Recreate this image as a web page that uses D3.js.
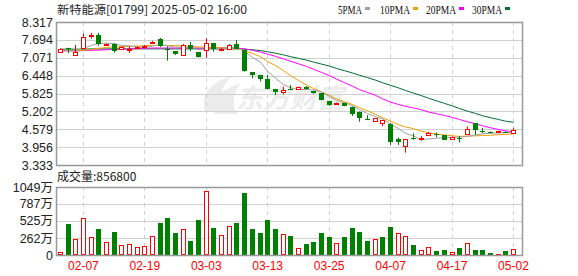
<!DOCTYPE html>
<html>
<head>
<meta charset="utf-8">
<script src="https://cdn.jsdelivr.net/npm/d3@7"></script>
<style>
  body { margin: 0; background: #fff; }
  svg { display: block; }
</style>
</head>
<body>
<div id="chart"></div>
<script>
// trading days shown (Feb 4 - May 2 2025)
var dates = ["02-04","02-05","02-06","02-07","02-10","02-11","02-12","02-13","02-14","02-17",
  "02-18","02-19","02-20","02-21","02-24","02-25","02-26","02-27","02-28","03-03",
  "03-04","03-05","03-06","03-07","03-10","03-11","03-12","03-13","03-14","03-17",
  "03-18","03-19","03-20","03-21","03-24","03-25","03-26","03-27","03-28","03-31",
  "04-01","04-02","04-03","04-07","04-08","04-09","04-10","04-11","04-14","04-15",
  "04-16","04-17","04-22","04-23","04-24","04-25","04-28","04-29","04-30","05-02"];

var open  = [7.29,7.40,7.19,7.39,7.84,7.85,7.53,7.55,7.37,7.38,7.42,7.45,7.59,7.73,7.37,7.29,7.18,7.53,7.27,7.34,
  7.58,7.35,7.38,7.54,7.34,6.56,6.47,6.33,5.98,5.87,5.99,5.98,6.06,5.91,5.83,5.56,5.47,5.48,5.37,5.19,
  4.93,4.87,4.79,4.76,4.24,4.00,4.29,4.26,4.36,4.41,4.37,4.25,4.27,4.40,4.79,4.53,4.48,4.47,4.49,4.48];
var close = [7.38,7.35,7.28,7.78,7.85,7.55,7.55,7.29,7.44,7.39,7.44,7.47,7.63,7.47,7.35,7.18,7.52,7.38,7.09,7.58,
  7.38,7.38,7.51,7.38,6.61,6.45,6.32,5.97,5.86,5.95,5.98,6.06,5.98,5.83,5.60,5.43,5.48,5.39,5.14,4.98,
  4.92,4.97,4.90,4.12,4.13,4.23,4.28,4.27,4.44,4.40,4.21,4.32,4.26,4.58,4.53,4.52,4.47,4.52,4.48,4.57];
var high  = [7.40,7.42,7.52,7.91,7.94,7.94,7.57,7.57,7.46,7.47,7.47,7.52,7.66,7.76,7.47,7.31,7.55,7.62,7.28,7.75,
  7.59,7.42,7.55,7.69,7.38,6.57,6.48,6.47,5.99,6.06,6.12,6.06,6.08,5.92,5.84,5.57,5.51,5.50,5.37,5.20,
  5.07,4.97,4.90,4.80,4.29,4.23,4.44,4.34,4.49,4.47,4.38,4.32,4.34,4.67,4.80,4.63,4.50,4.53,4.52,4.63];
var low   = [7.25,7.23,7.19,7.38,7.74,7.49,7.50,7.25,7.35,7.24,7.38,7.43,7.55,7.44,6.97,7.17,7.17,7.30,7.08,7.07,
  7.28,7.30,7.37,7.37,6.59,6.35,6.24,5.96,5.77,5.80,5.97,5.97,5.97,5.81,5.58,5.40,5.46,5.38,5.04,4.84,
  4.92,4.86,4.69,4.03,4.03,3.76,4.21,4.18,4.35,4.30,4.20,4.24,4.12,4.39,4.38,4.44,4.44,4.46,4.47,4.47];

// volume in 万 shares, and whether the bar is drawn as a rise (red)
var volume = [40,478,242,566,272,401,195,355,149,165,118,134,288,494,571,339,401,216,540,987,
  416,303,442,494,956,401,339,540,401,319,293,103,170,200,339,278,180,278,416,355,
  216,242,278,432,334,288,154,72,118,62,77,41,108,180,77,77,31,15,62,85.68];
var volRise = [1,0,1,1,1,0,1,0,1,1,1,1,1,0,0,0,1,0,0,1,0,1,1,0,0,0,0,0,0,1,
  0,1,0,0,0,0,1,0,0,0,0,1,0,0,1,1,0,1,1,0,0,1,0,1,0,0,0,1,0,1];

// moving averages
var ma5  = [7.33,7.33,7.32,7.40,7.50,7.57,7.58,7.56,7.50,7.48,7.44,7.44,7.48,7.52,7.49,7.44,7.43,7.40,7.36,7.38,
  7.38,7.40,7.42,7.43,7.30,7.08,6.92,6.60,6.36,6.14,6.02,5.97,5.96,5.95,5.88,5.72,5.58,5.50,5.40,5.26,
  5.12,5.02,4.94,4.76,4.60,4.44,4.34,4.22,4.24,4.27,4.28,4.30,4.31,4.33,4.38,4.42,4.44,4.45,4.46,4.48];
var ma10 = [7.32,7.32,7.31,7.33,7.36,7.40,7.43,7.45,7.46,7.47,7.48,7.49,7.50,7.50,7.50,7.49,7.48,7.47,7.45,7.44,
  7.43,7.42,7.41,7.40,7.32,7.22,7.11,6.94,6.80,6.62,6.45,6.28,6.12,6.00,5.88,5.76,5.64,5.54,5.44,5.33,
  5.22,5.10,4.98,4.86,4.74,4.66,4.60,4.51,4.45,4.41,4.38,4.35,4.33,4.34,4.35,4.36,4.37,4.39,4.40,4.42];
var ma20 = [7.31,7.31,7.31,7.32,7.33,7.34,7.35,7.36,7.37,7.38,7.39,7.40,7.41,7.41,7.41,7.41,7.41,7.41,7.41,7.41,
  7.42,7.42,7.42,7.41,7.38,7.33,7.27,7.20,7.12,7.03,6.95,6.86,6.77,6.67,6.56,6.45,6.33,6.20,6.08,5.96,
  5.86,5.76,5.64,5.53,5.44,5.38,5.32,5.26,5.18,5.12,5.06,4.99,4.92,4.84,4.77,4.70,4.63,4.57,4.52,4.49];
var ma30 = [7.37,7.37,7.37,7.37,7.38,7.38,7.38,7.38,7.38,7.38,7.38,7.38,7.38,7.38,7.38,7.38,7.38,7.38,7.38,7.38,
  7.38,7.38,7.38,7.38,7.37,7.35,7.32,7.28,7.23,7.17,7.11,7.05,6.99,6.92,6.85,6.78,6.70,6.62,6.54,6.46,
  6.38,6.29,6.20,6.11,6.02,5.93,5.84,5.75,5.66,5.57,5.48,5.39,5.30,5.21,5.13,5.05,4.98,4.92,4.86,4.82];

var priceTicks = [8.317,7.694,7.071,6.448,5.825,5.202,4.579,3.956,3.333];
var volTicks = [1049,787,525,262,0];
var dateTicks = ["02-07","02-19","03-03","03-13","03-25","04-07","04-17","05-02"];
var maNames = ["5PMA","10PMA","20PMA","30PMA"];

var svgWidth = 578;
var svgHeight = 276;
var plotLeft = 56, plotRight = 522;
var priceTop = 22, priceBottom = 165;
var volTop = 187, volBottom = 255;

var RED = "#ff0000", GREEN = "#008000";
var maColors = ["#a0a0a0", "#f0a000", "#ff00ff", "#006e33"];

var svg = d3.select("#chart")
    .append("svg")
    .attr("width", svgWidth)
    .attr("height", svgHeight)
    .style("font-family", "'Liberation Sans', Arial, sans-serif");

var xScale = d3.scaleBand()
    .domain(d3.range(dates.length))
    .range([plotLeft, plotLeft + 7.68 * dates.length])
    .padding(0);

var yPrice = d3.scaleLinear().domain([3.333, 8.317]).range([priceBottom, priceTop]);
var yVol = d3.scaleLinear().domain([0, 1049]).range([volBottom, volTop]);

function cx(i) { return Math.round(xScale(i) + xScale.bandwidth() / 2); }

// watermark
svg.append("text")
    .attr("x", 236).attr("y", 108)
    .attr("font-family", "'Noto Sans CJK SC', sans-serif")
    .attr("font-size", 27).attr("font-weight", "bold").attr("font-style", "italic")
    .attr("fill", "#ececec")
    .text("东方财富");
svg.append("path")
    .attr("d", "M205,112 C200,95 210,82 232,76 C220,88 218,100 226,112 Z M214,114 C212,100 222,88 240,84 C232,96 232,106 238,114 Z")
    .attr("fill", "#ececec");

// title + legend
svg.append("text")
    .attr("x", 57).attr("y", 14)
    .attr("font-family", "'Noto Sans CJK SC', sans-serif")
    .attr("font-size", 11.5).attr("fill", "#222")
    .attr("textLength", 190).attr("lengthAdjust", "spacingAndGlyphs")
    .text("新特能源[01799] 2025-05-02 16:00");

var legendX = [338, 380, 426, 472];
maNames.forEach(function (name, k) {
    var w = name.length * 6;
    svg.append("text")
        .attr("x", legendX[k]).attr("y", 13.5)
        .attr("font-family", "'Liberation Serif', serif")
        .attr("font-size", 13).attr("fill", "#111")
        .attr("textLength", w).attr("lengthAdjust", "spacingAndGlyphs")
        .text(name);
    svg.append("rect")
        .attr("x", legendX[k] + w + 3).attr("y", 7)
        .attr("width", 5).attr("height", 3)
        .attr("fill", maColors[k]);
});

// grids
function drawGrid(yScale, ticks, top, bottom) {
    var g = svg.append("g");
    g.selectAll("line.h")
        .data(ticks)
        .enter()
        .append("line")
        .attr("x1", plotLeft).attr("x2", plotRight)
        .attr("y1", d => Math.round(yScale(d)) + 0.5)
        .attr("y2", d => Math.round(yScale(d)) + 0.5)
        .attr("stroke", "#d0d0d0");
    g.selectAll("line.v")
        .data(dateTicks)
        .enter()
        .append("line")
        .attr("x1", d => cx(dates.indexOf(d)) + 0.5)
        .attr("x2", d => cx(dates.indexOf(d)) + 0.5)
        .attr("y1", top).attr("y2", bottom)
        .attr("stroke", "#cfcfcf")
        .attr("stroke-dasharray", "4,4");
}
drawGrid(yPrice, priceTicks, priceTop, priceBottom);
drawGrid(yVol, volTicks, volTop, volBottom);

// MA lines
var maData = [ma5, ma10, ma20, ma30];
var line = d3.line()
    .x((d, i) => cx(i) + 0.5)
    .y(d => yPrice(d));
maData.slice().reverse().forEach(function (arr, k) {
    svg.append("path")
        .datum(arr)
        .attr("d", line)
        .attr("fill", "none")
        .attr("stroke", maColors[3 - k])
        .attr("stroke-width", 1);
});

// candles
var candles = svg.append("g")
    .selectAll("g")
    .data(d3.range(dates.length))
    .enter()
    .append("g");

candles.append("line")
    .attr("x1", i => cx(i) + 0.5).attr("x2", i => cx(i) + 0.5)
    .attr("y1", i => yPrice(high[i])).attr("y2", i => yPrice(low[i]))
    .attr("stroke", i => close[i] >= open[i] ? RED : GREEN);

candles.append("rect")
    .attr("x", i => close[i] >= open[i] ? cx(i) - 1.5 : cx(i) - 2)
    .attr("width", i => close[i] >= open[i] ? 4 : 5)
    .attr("y", i => close[i] >= open[i]
        ? Math.round(yPrice(Math.max(open[i], close[i]))) + 0.5
        : Math.round(yPrice(Math.max(open[i], close[i]))))
    .attr("height", i => Math.max(1, Math.round(Math.abs(yPrice(open[i]) - yPrice(close[i])))))
    .attr("fill", i => close[i] >= open[i] ? "#fff" : GREEN)
    .attr("stroke", i => close[i] >= open[i] ? RED : "none");

// volume bars
svg.append("g")
    .selectAll("rect")
    .data(volume)
    .enter()
    .append("rect")
    .attr("x", (d, i) => volRise[i] ? cx(i) - 1.5 : cx(i) - 2)
    .attr("width", (d, i) => volRise[i] ? 4 : 5)
    .attr("y", (d, i) => volRise[i] ? Math.round(yVol(d)) + 0.5 : Math.round(yVol(d)))
    .attr("height", (d, i) => Math.max(1, Math.round(volBottom - yVol(d)) - (volRise[i] ? 1 : 0)))
    .attr("fill", (d, i) => volRise[i] ? "#fff" : GREEN)
    .attr("stroke", (d, i) => volRise[i] ? RED : "none");

// frames
[[priceTop, priceBottom], [volTop, volBottom]].forEach(function (p) {
    svg.append("rect")
        .attr("x", plotLeft + 0.5).attr("y", p[0] + 0.5)
        .attr("width", plotRight - plotLeft).attr("height", p[1] - p[0])
        .attr("fill", "none")
        .attr("stroke", "#999")
        .attr("stroke-width", 1.5);
});

// axes
var priceAxis = d3.axisLeft(yPrice)
    .tickValues(priceTicks)
    .tickSize(0).tickPadding(3)
    .tickFormat(d3.format(".3f"));
var pa = svg.append("g")
    .attr("transform", `translate(${plotLeft}, 0)`)
    .call(priceAxis);
pa.select(".domain").remove();
pa.selectAll("text").attr("font-size", 12.5).attr("fill", "#222").attr("font-family", "'Liberation Sans', Arial");

var volAxis = d3.axisLeft(yVol)
    .tickValues(volTicks)
    .tickSize(0).tickPadding(3)
    .tickFormat(d => d === 0 ? "0" : d + "万");
var va = svg.append("g")
    .attr("transform", `translate(${plotLeft}, 0)`)
    .call(volAxis);
va.select(".domain").remove();
va.selectAll("text").attr("font-size", 12.5).attr("fill", "#222").attr("font-family", "'Liberation Sans', 'Noto Sans CJK SC', sans-serif");

var dateAxis = d3.axisBottom(xScale)
    .tickValues(dateTicks.map(d => dates.indexOf(d)))
    .tickSize(0).tickPadding(6)
    .tickFormat(i => dates[i]);
var da = svg.append("g")
    .attr("transform", `translate(0.5, ${volBottom})`)
    .call(dateAxis);
da.select(".domain").remove();
da.selectAll("text").attr("font-size", 12).attr("fill", RED).attr("font-family", "'Liberation Sans', Arial");

// volume caption
svg.append("text")
    .attr("x", 57).attr("y", 181)
    .attr("font-family", "'Noto Sans CJK SC', sans-serif")
    .attr("font-size", 12).attr("fill", "#222")
    .text("成交量:" + d3.format("d")(volume[volume.length - 1] * 10000));
</script>
</body>
</html>
